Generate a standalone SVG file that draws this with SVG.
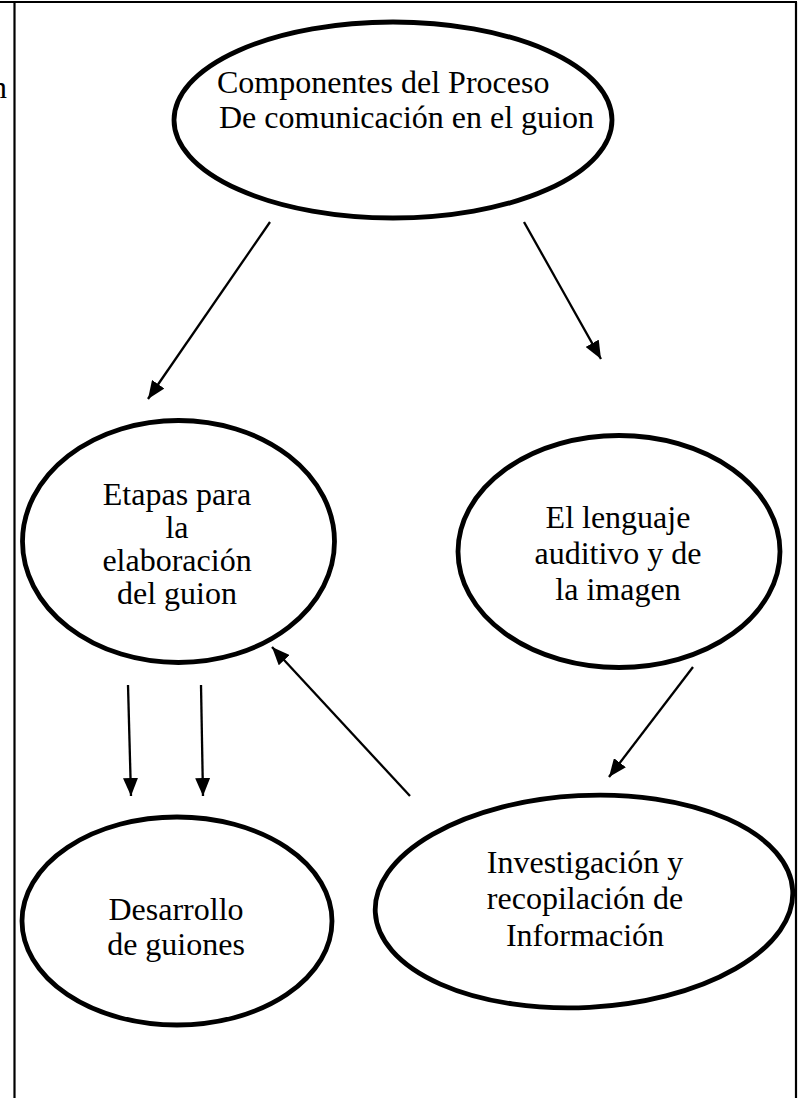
<svg xmlns="http://www.w3.org/2000/svg" width="798" height="1098" viewBox="0 0 798 1098">
<style>
.node ellipse{fill:#fff;stroke:#000;stroke-width:4.8}
.lbl{font-family:"Liberation Serif","Times New Roman",serif;font-size:32px;fill:#000}
.c{text-anchor:middle}
.conn line{stroke:#000;stroke-width:2.3}
.frame{stroke:#000;stroke-width:2.2;fill:none}
</style>
<defs>
<marker id="ah" viewBox="0 0 18 15" refX="18" refY="7.5" markerWidth="18" markerHeight="15" markerUnits="userSpaceOnUse" orient="auto">
<path d="M0,0 L18,7.5 L0,15 Z" fill="#000"/>
</marker>
</defs>
<rect width="798" height="1098" fill="#fff"/>
<g id="frame">
<line class="frame" x1="0" y1="2" x2="797" y2="2"/>
<line class="frame" x1="14.5" y1="2" x2="14.5" y2="1098"/>
<line class="frame" x1="796" y1="2" x2="796" y2="1098"/>
<text class="lbl" x="-9" y="98" font-size="26">n</text>
</g>
<g id="n-componentes" class="node">
<ellipse cx="393" cy="120" rx="219" ry="98"/>
<text class="lbl" x="217" y="93">Componentes del Proceso</text>
<text class="lbl" x="219" y="128">De comunicación en el guion</text>
</g>
<g id="n-etapas" class="node">
<ellipse cx="178.5" cy="541.5" rx="156" ry="121"/>
<text class="lbl c" x="177" y="505">Etapas para</text>
<text class="lbl c" x="177" y="538">la</text>
<text class="lbl c" x="177" y="571">elaboración</text>
<text class="lbl c" x="177" y="604">del guion</text>
</g>
<g id="n-lenguaje" class="node">
<ellipse cx="619" cy="551.5" rx="161" ry="116"/>
<text class="lbl c" x="618" y="528">El lenguaje</text>
<text class="lbl c" x="618" y="564">auditivo y de</text>
<text class="lbl c" x="618" y="600">la imagen</text>
</g>
<g id="n-desarrollo" class="node">
<ellipse cx="177" cy="921" rx="155" ry="104"/>
<text class="lbl c" x="176" y="920">Desarrollo</text>
<text class="lbl c" x="176" y="955">de guiones</text>
</g>
<g id="n-investigacion" class="node">
<ellipse cx="584" cy="901.5" rx="209" ry="106" transform="rotate(-3 584 901.5)"/>
<text class="lbl c" x="585" y="873">Investigación y</text>
<text class="lbl c" x="585" y="909">recopilación de</text>
<text class="lbl c" x="585" y="946">Información</text>
</g>
<g id="connectors" class="conn">
<line x1="270" y1="222" x2="148" y2="399" marker-end="url(#ah)"/>
<line x1="524" y1="222" x2="601" y2="359" marker-end="url(#ah)"/>
<line x1="693" y1="667" x2="609" y2="777" marker-end="url(#ah)"/>
<line x1="410" y1="796" x2="272" y2="647" marker-end="url(#ah)"/>
<line x1="128" y1="685" x2="131" y2="796" marker-end="url(#ah)"/>
<line x1="201" y1="685" x2="203" y2="796" marker-end="url(#ah)"/>
</g>
</svg>
